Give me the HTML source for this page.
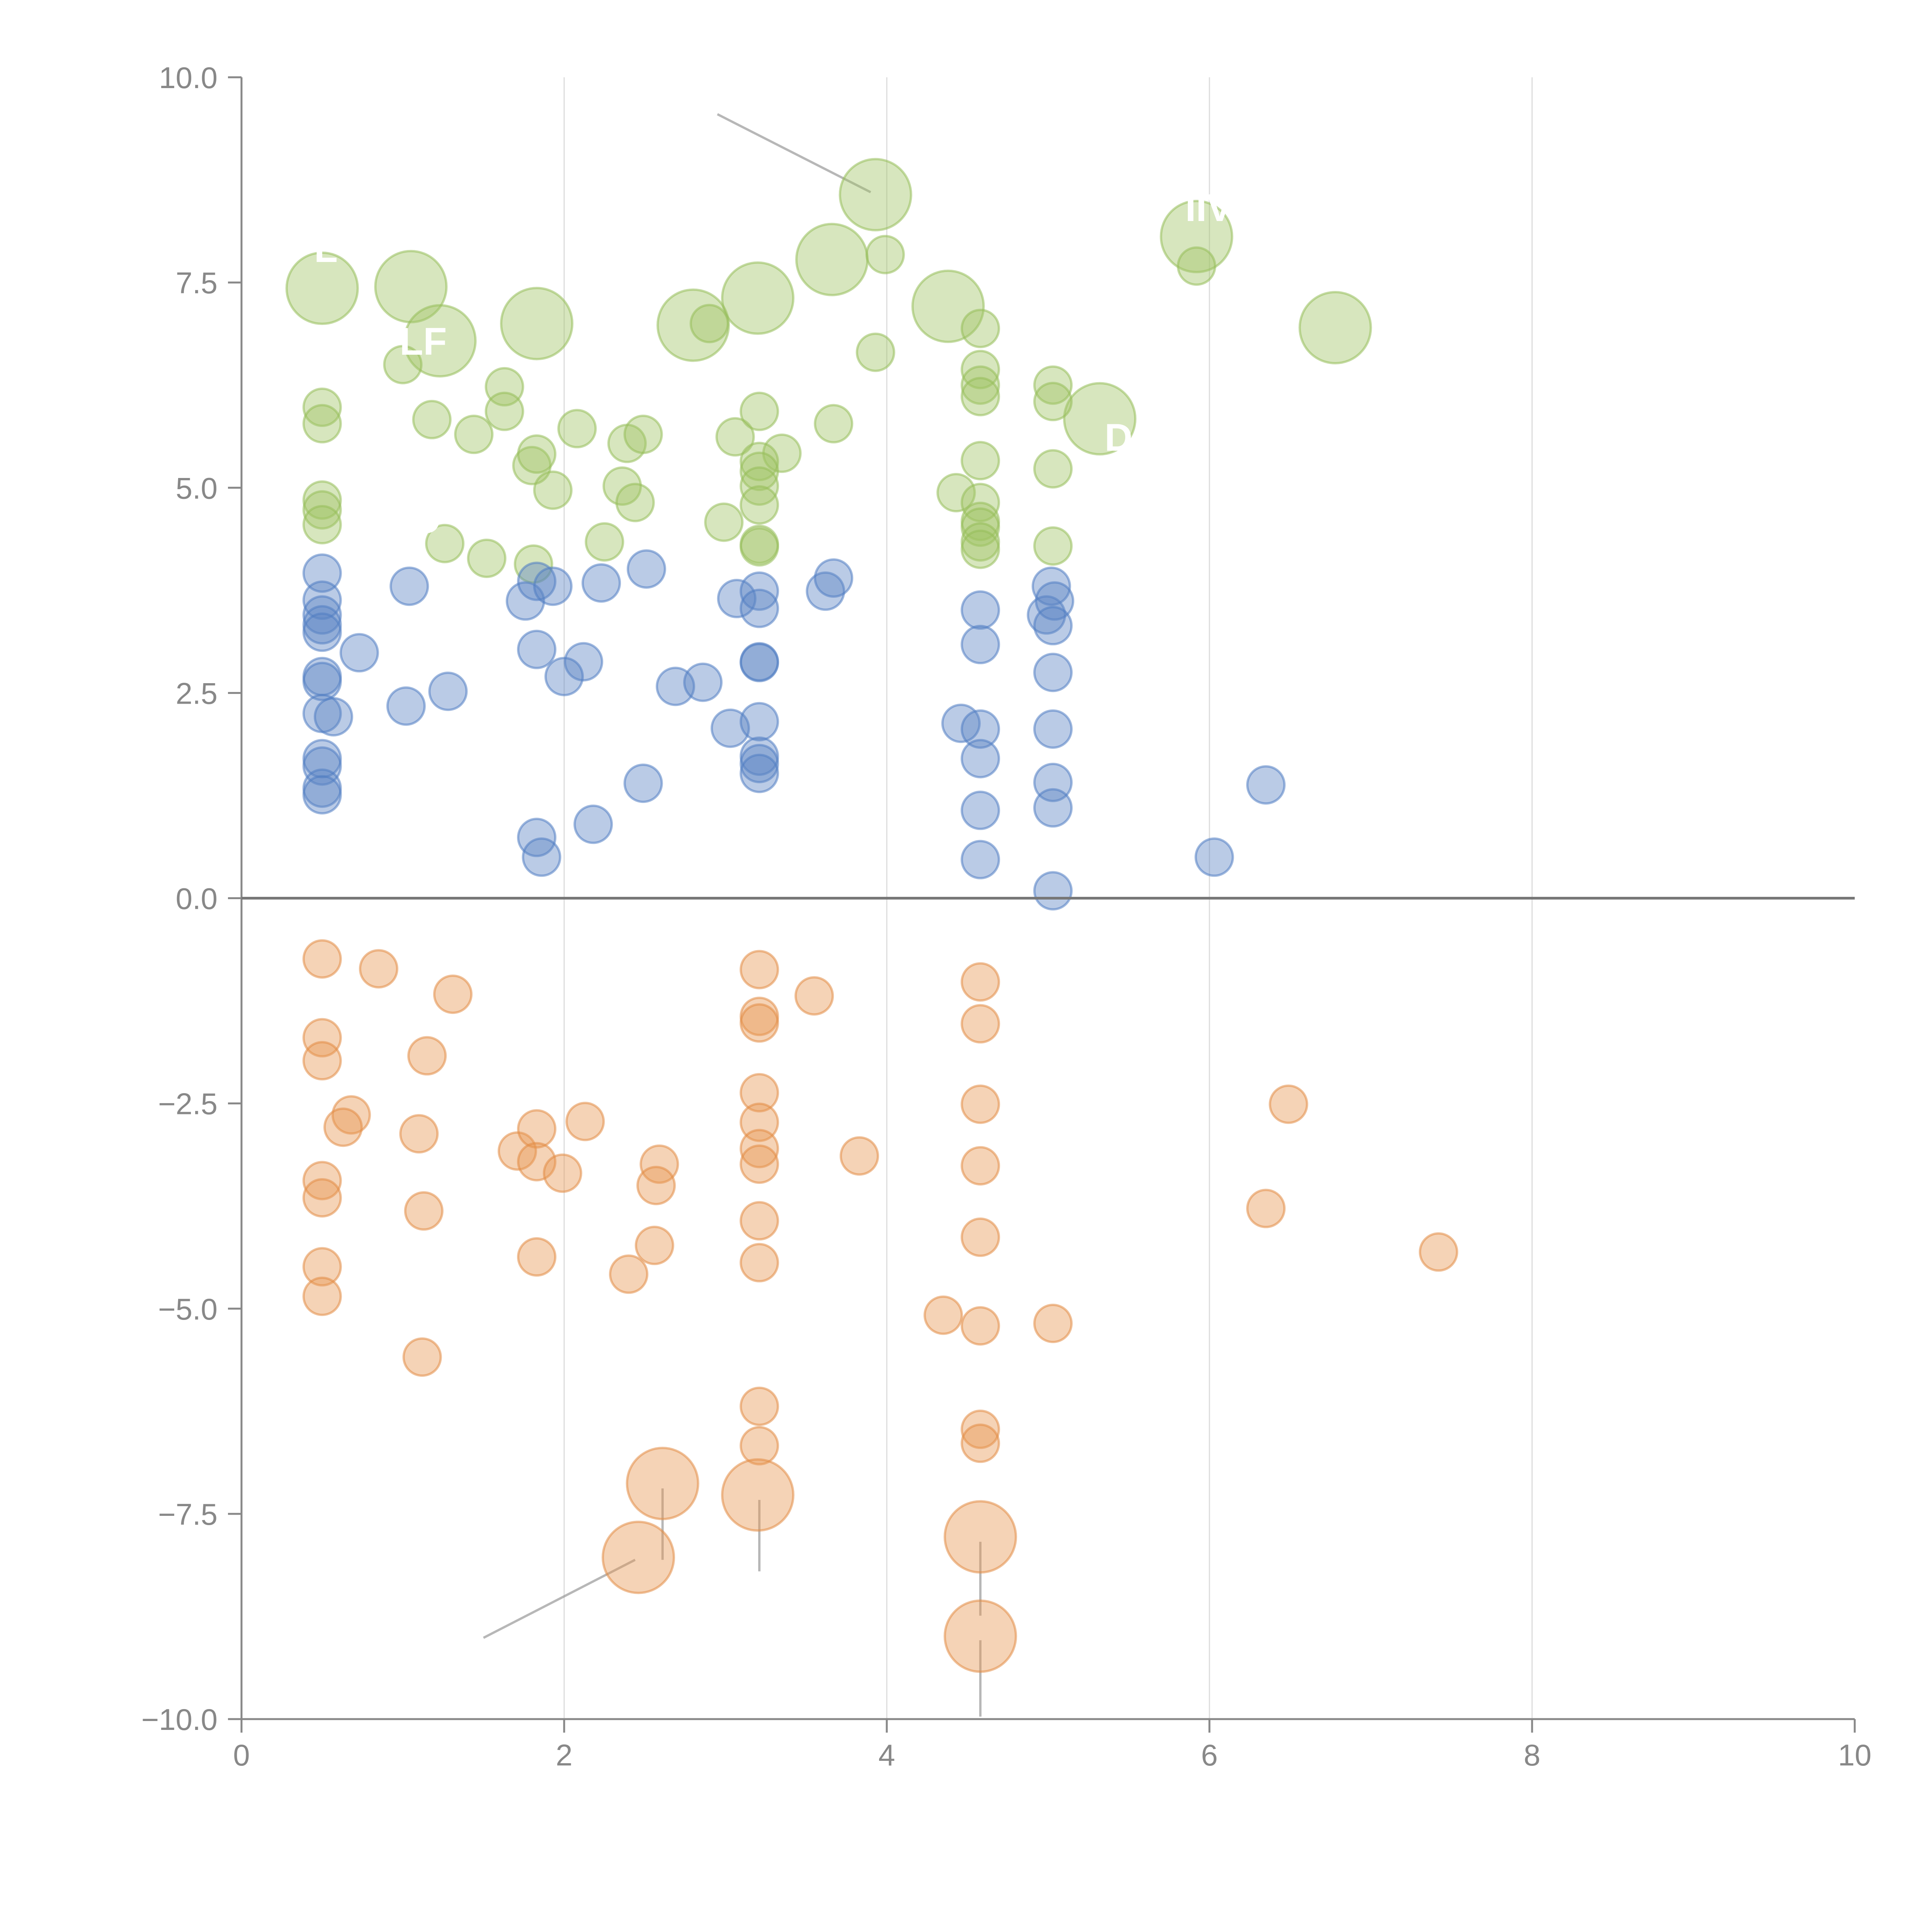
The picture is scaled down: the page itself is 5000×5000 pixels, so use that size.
<!DOCTYPE html>
<html><head><meta charset="utf-8"><style>
html,body{margin:0;padding:0;background:#fff;}
svg{display:block;font-family:"Liberation Sans",Arial,sans-serif;}
</style></head>
<body>
<svg id="chart" width="5000" height="5000" viewBox="0 0 5000 5000" xmlns="http://www.w3.org/2000/svg">
<rect x="0" y="0" width="5000" height="5000" fill="#fff"/>
<g id="grid"></g>
<g id="annot"></g>
<g id="marks"></g>
<g id="axes"></g>
<g id="labels"></g>
</svg>
<script>
const xTicks = [0, 2, 4, 6, 8, 10];
const xTickLabels = ["0", "2", "4", "6", "8", "10"];
const yTicks = [10, 7.5, 5, 2.5, 0, -2.5, -5, -7.5, -10];
const yTickLabels = ["10.0", "7.5", "5.0", "2.5", "0.0", "\u22122.5", "\u22125.0", "\u22127.5", "\u221210.0"];

// [x, y, size] size: 1 = small, 2 = large
const greenPoints = [
[0.50,7.43,2],[1.05,7.45,2],[1.23,6.79,2],[1.83,7.00,2],[2.80,6.98,2],[3.20,7.31,2],[3.66,7.78,2],[3.93,8.57,2],[4.38,7.21,2],[5.32,5.84,2],[5.92,8.06,2],[6.78,6.95,2],
[3.99,7.84,1],[2.90,7.00,1],[3.93,6.65,1],[4.58,6.94,1],[5.92,7.70,1],[1.00,6.50,1],[0.50,5.98,1],[0.50,5.78,1],[1.18,5.83,1],[1.44,5.65,1],[1.63,6.23,1],[1.63,5.93,1],
[2.08,5.72,1],[2.39,5.54,1],[2.49,5.65,1],[3.06,5.62,1],[3.21,5.93,1],[3.35,5.42,1],[3.67,5.78,1],[3.21,5.32,1],[3.21,5.20,1],[3.21,5.02,1],[3.21,4.79,1],[3.21,4.31,1],[3.21,4.28,1],
[1.80,5.27,1],[1.83,5.41,1],[1.93,4.97,1],[2.36,5.02,1],[2.44,4.82,1],[2.25,4.34,1],[2.99,4.58,1],[0.50,4.85,1],[0.50,4.73,1],[0.50,4.55,1],[1.26,4.32,1],[1.52,4.14,1],[1.81,4.07,1],
[4.43,4.94,1],[4.58,5.33,1],[4.58,4.82,1],[4.58,4.59,1],[4.58,4.52,1],[4.58,4.34,1],[4.58,4.25,1],[4.58,6.44,1],[4.58,6.25,1],[4.58,6.11,1],
[5.03,6.25,1],[5.03,6.05,1],[5.03,5.23,1],[5.03,4.29,1]
];
const bluePoints = [
[0.50,3.96,1],[0.50,3.63,1],[0.50,3.45,1],[0.50,3.33,1],[0.50,3.24,1],[0.73,2.99,1],[1.04,3.80,1],[0.50,2.70,1],[0.50,2.64,1],[0.50,2.25,1],[0.57,2.21,1],
[0.50,1.70,1],[0.50,1.61,1],[0.50,1.34,1],[0.50,1.26,1],[1.02,2.34,1],[1.28,2.52,1],[1.76,3.62,1],[1.83,3.86,1],[1.93,3.80,1],[2.23,3.84,1],[2.51,4.01,1],
[1.83,3.03,1],[2.12,2.88,1],[2.00,2.70,1],[2.69,2.58,1],[2.86,2.63,1],[3.03,2.07,1],[3.07,3.65,1],[3.21,3.74,1],[3.21,3.53,1],[3.21,2.88,1],[3.21,2.87,1],
[3.21,2.15,1],[3.21,1.73,1],[3.21,1.64,1],[3.21,1.52,1],[3.62,3.74,1],[3.67,3.90,1],[2.49,1.40,1],[2.18,0.90,1],[1.83,0.74,1],[1.86,0.50,1],
[4.46,2.13,1],[4.58,3.51,1],[4.58,3.09,1],[4.58,2.06,1],[4.58,1.70,1],[4.58,1.07,1],[4.58,0.47,1],
[5.02,3.80,1],[4.99,3.45,1],[5.04,3.62,1],[5.03,3.32,1],[5.03,2.75,1],[5.03,2.06,1],[5.03,1.41,1],[5.03,1.10,1],[5.03,0.09,1],[6.03,0.50,1],[6.35,1.38,1]
];
const orangePoints = [
[0.50,-0.74,1],[0.85,-0.86,1],[1.31,-1.17,1],[0.50,-1.70,1],[0.50,-1.98,1],[1.15,-1.92,1],[0.68,-2.64,1],[0.63,-2.79,1],[1.10,-2.87,1],[0.50,-3.44,1],[0.50,-3.65,1],
[1.13,-3.81,1],[0.50,-4.49,1],[0.50,-4.85,1],[1.12,-5.59,1],[1.71,-3.08,1],[1.83,-2.81,1],[1.83,-3.21,1],[1.99,-3.35,1],[2.13,-2.72,1],[2.59,-3.24,1],[2.57,-3.50,1],
[2.56,-4.23,1],[2.40,-4.58,1],[1.83,-4.37,1],[3.21,-0.87,1],[3.21,-1.44,1],[3.21,-1.52,1],[3.21,-2.37,1],[3.21,-2.73,1],[3.21,-3.05,1],[3.21,-3.24,1],[3.21,-3.93,1],
[3.21,-4.44,1],[3.21,-6.19,1],[3.21,-6.67,1],[3.55,-1.19,1],[3.83,-3.14,1],[4.58,-1.02,1],[4.58,-1.53,1],[4.58,-2.51,1],[4.58,-3.26,1],[4.58,-4.13,1],[4.58,-5.21,1],
[4.35,-5.08,1],[5.03,-5.18,1],[4.58,-6.47,1],[4.58,-6.64,1],[6.49,-2.51,1],[6.35,-3.78,1],[7.42,-4.31,1],
[2.61,-7.13,2],[3.20,-7.27,2],[2.46,-8.03,2],[4.58,-7.78,2],[4.58,-8.99,2]
];
// annotation leader lines [x1,y1,x2,y2]
const leaderLines = [
[2.95,9.55,3.90,8.60],[1.50,-9.01,2.44,-8.06],[2.61,-7.19,2.61,-8.06],[3.21,-7.33,3.21,-8.20],[4.58,-7.84,4.58,-8.74],[4.58,-9.04,4.58,-9.97]
];
// white in-bubble labels [x, y, text]
const bubbleLabels = [[0.45,7.75,"L"],[0.98,6.62,"LF"],[5.85,8.25,"IIV"],[5.35,5.45,"D"],[4.00,4.90,"D"],[1.05,4.45,"O"]];

const NS = "http://www.w3.org/2000/svg";
const X0 = 625, X1 = 4800, Y0 = 4449, Y1 = 200;
const xScale = v => X0 + (v - 0) / 10 * (X1 - X0);
const yScale = v => Y0 - (v + 10) / 20 * (Y0 - Y1);
const rScale = s => s === 2 ? 92 : 48;
function mk(tag, attrs, parent) {
  const el = document.createElementNS(NS, tag);
  for (const k in attrs) el.setAttribute(k, attrs[k]);
  parent.appendChild(el);
  return el;
}
const grid = document.getElementById("grid");
const axes = document.getElementById("axes");
const marks = document.getElementById("marks");
const annot = document.getElementById("annot");
const labels = document.getElementById("labels");

xTicks.forEach((t, i) => {
  if (t > 0 && t < 10) {
    const g = mk("line", {x1: xScale(t), x2: xScale(t), y1: Y1, y2: Y0, stroke: "#dcdcdc", "stroke-width": 3}, grid);
    
    
  }
  const tk = mk("line", {x1: xScale(t), x2: xScale(t), y1: Y0, y2: Y0 + 35, stroke: "#888", "stroke-width": 5}, axes);
  
  
  const tx = mk("text", {x: xScale(t), y: Y0 + 120, "text-anchor": "middle", "font-size": 78, fill: "#888"}, axes);
  tx.textContent = xTickLabels[i];
  
  
});
yTicks.forEach((t, i) => {
  const tk = mk("line", {x1: X0 - 35, x2: X0, y1: yScale(t), y2: yScale(t), stroke: "#888", "stroke-width": 5}, axes);
  
  
  const tx = mk("text", {x: X0 - 62, y: yScale(t) + 28, "text-anchor": "end", "font-size": 78, fill: "#888"}, axes);
  tx.textContent = yTickLabels[i];
  
  
});
const ya = mk("line", {x1: X0, x2: X0, y1: Y1, y2: Y0, stroke: "#888", "stroke-width": 5}, axes);


const xa = mk("line", {x1: X0, x2: X1, y1: Y0, y2: Y0, stroke: "#888", "stroke-width": 5}, axes);


const zl = mk("line", {x1: X0, x2: X1, y1: yScale(0), y2: yScale(0), stroke: "#777", "stroke-width": 7}, axes);



function drawSeries(pts, fill, stroke, name) {
  pts.forEach(p => {
    const c = mk("circle", {cx: xScale(p[0]), cy: yScale(p[1]), r: rScale(p[2]), fill: fill, "fill-opacity": 0.42, stroke: stroke, "stroke-opacity": 0.55, "stroke-width": 6}, marks);
    
    
  });
}
drawSeries(greenPoints, "rgb(160,195,100)", "rgb(150,190,90)", "green-bubble");
drawSeries(bluePoints, "rgb(90,130,195)", "rgb(80,125,195)", "blue-bubble");
drawSeries(orangePoints, "rgb(230,150,80)", "rgb(225,140,70)", "orange-bubble");

leaderLines.forEach(l => {
  const ln = mk("line", {x1: xScale(l[0]), y1: yScale(l[1]), x2: xScale(l[2]), y2: yScale(l[3]), stroke: "#999", "stroke-opacity": 0.7, "stroke-width": 6}, annot);
  
  
});
bubbleLabels.forEach(b => {
  const t = mk("text", {x: xScale(b[0]), y: yScale(b[1]), "font-size": 100, fill: "#fff", "font-weight": "bold"}, labels);
  t.textContent = b[2];
  
  
});
</script>
</body></html>
